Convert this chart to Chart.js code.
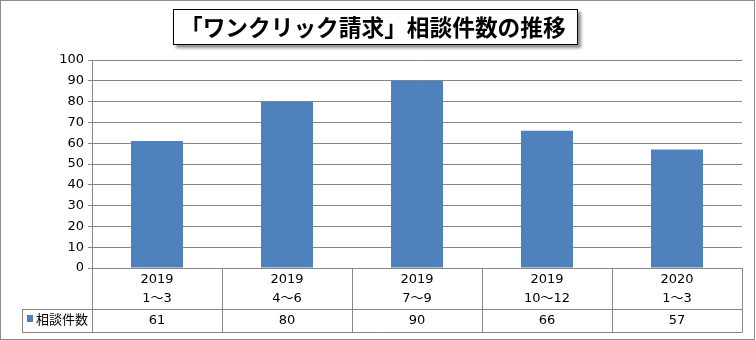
<!DOCTYPE html>
<html lang="ja">
<head>
<meta charset="utf-8">
<script src="https://cdn.jsdelivr.net/npm/chart.js@4"></script>
<style>
    body { margin: 0; background: #fff; }
    #wrap { position: relative; width: 756px; height: 340px; }
    #frame {
        position: absolute; left: 0; top: 0; width: 753px; height: 338px;
        border: 1px solid #8c8c8c; pointer-events: none;
    }
    #title {
        position: absolute; left: 173px; top: 9px; width: 397px; height: 34px;
        padding-left: 6px;
        border: 1px solid #000; background: #fff;
        box-shadow: 3px 3px 3px rgba(0, 0, 0, 0.45);
        font: bold 22.7px "Noto Sans CJK JP", sans-serif;
        line-height: 34px; white-space: nowrap; color: #000;
    }
</style>
</head>
<body>
<div id="wrap">
    <canvas id="chart" width="756" height="340"></canvas>
    <div id="frame"></div>
    <div id="title">「ワンクリック請求」相談件数の推移</div>
</div>
<script>
// quarter labels (year / months) and counts per quarter
const years = ['2019', '2019', '2019', '2019', '2020'];
const months = ['1～3', '4～6', '7～9', '10～12', '1～3'];
const counts = [61, 80, 90, 66, 57];
const seriesName = '相談件数';

const FONT = '"DejaVu Sans", "Noto Sans CJK JP", sans-serif';
const LINE = '#868686';
const BAR = '#4f81bd';

// data table under the plot: category row, then legend + value row
const dataTable = {
    id: 'dataTable',
    afterDraw(chart) {
        const { ctx, chartArea, scales } = chart;
        const x = scales.x;
        const step = x.getPixelForValue(1) - x.getPixelForValue(0);
        const top = chartArea.bottom;
        const mid = top + 41;
        const bot = top + 64;
        const left = x.getPixelForValue(0) - step / 2;
        const right = x.getPixelForValue(counts.length - 1) + step / 2;
        const legendLeft = 22;

        ctx.save();
        ctx.strokeStyle = LINE;
        ctx.lineWidth = 1;
        ctx.beginPath();
        ctx.moveTo(legendLeft, mid + 0.5); ctx.lineTo(right, mid + 0.5);
        ctx.moveTo(legendLeft, bot + 0.5); ctx.lineTo(right + 0.5, bot + 0.5);
        ctx.moveTo(legendLeft + 0.5, mid); ctx.lineTo(legendLeft + 0.5, bot);
        for (let i = 0; i <= counts.length; i++) {
            const px = Math.round(left + i * step) + 0.5;
            ctx.moveTo(px, top); ctx.lineTo(px, bot);
        }
        ctx.moveTo(left, top + 0.5); ctx.lineTo(right, top + 0.5);
        ctx.stroke();

        ctx.fillStyle = '#000';
        ctx.font = '13px ' + FONT;
        ctx.textAlign = 'center';
        ctx.textBaseline = 'middle';
        counts.forEach((v, i) => {
            const cx = x.getPixelForValue(i);
            ctx.fillText(years[i], cx, top + 12);
            ctx.fillText(months[i], cx, top + 31);
            ctx.fillText(String(v), cx, mid + 12);
        });

        // legend key
        ctx.fillStyle = BAR;
        ctx.fillRect(legendLeft + 5, mid + 6, 6, 7);
        ctx.fillStyle = '#000';
        ctx.textAlign = 'left';
        ctx.fillText(seriesName, legendLeft + 14, mid + 12);
        ctx.restore();
    }
};

new Chart(document.getElementById('chart'), {
    type: 'bar',
    data: {
        labels: years.map((y, i) => y + ' ' + months[i]),
        datasets: [{
            label: seriesName,
            data: counts,
            backgroundColor: BAR,
            categoryPercentage: 0.8,
            barPercentage: 0.5
        }]
    },
    options: {
        responsive: false,
        animation: false,
        layout: { padding: { left: 0, right: 14, top: 60, bottom: 72 } },
        plugins: {
            legend: { display: false },
            tooltip: { enabled: false }
        },
        scales: {
            x: { display: false },
            y: {
                min: 0,
                max: 100,
                ticks: {
                    stepSize: 10,
                    color: '#000',
                    font: { family: FONT, size: 13 },
                    padding: 4
                },
                grid: { color: LINE, tickLength: 4, drawTicks: true },
                border: { color: LINE },
                afterFit(scale) { scale.width = 92; }
            }
        }
    },
    plugins: [dataTable]
});
</script>
</body>
</html>
